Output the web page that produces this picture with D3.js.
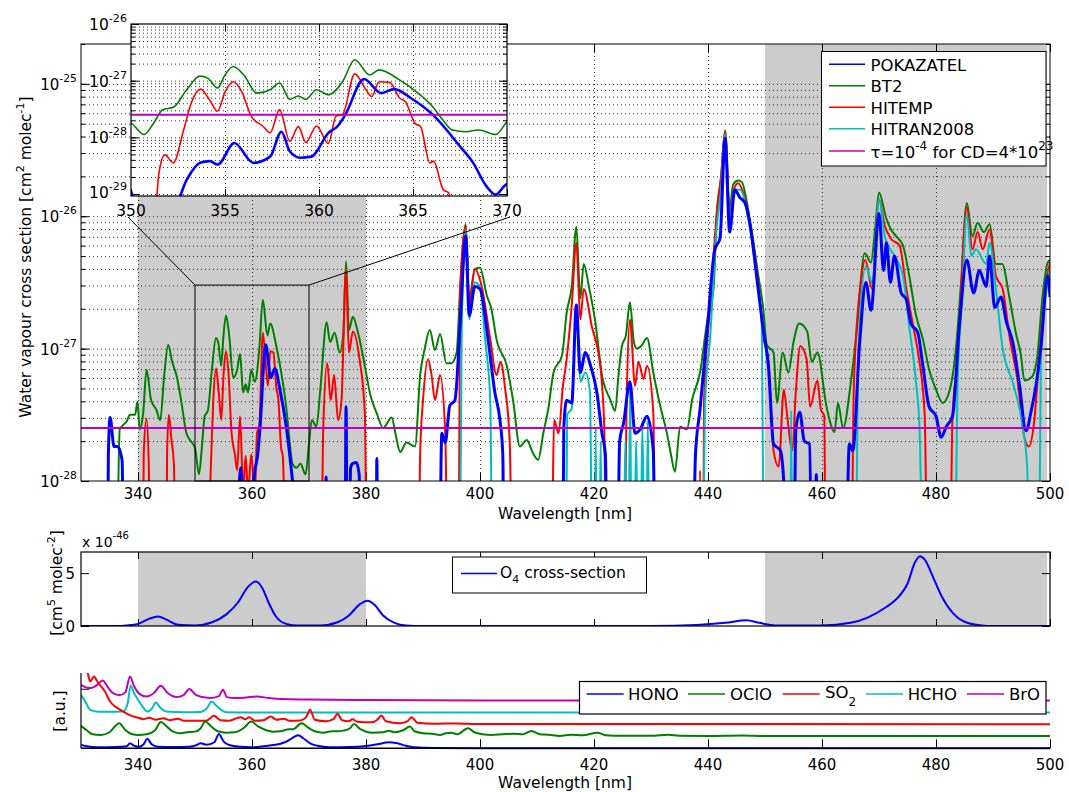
<!DOCTYPE html>
<html><head><meta charset="utf-8">
<script src="https://cdn.jsdelivr.net/npm/d3@7"></script>
<style>
body{margin:0;background:#fff;}
text{font-family:"DejaVu Sans",sans-serif;fill:#000;}
</style></head><body>
<svg id="c" width="1069" height="792"></svg>
<script>
// ===== DATA =====
const wavelengthTicks = [340,360,380,400,420,440,460,480,500];
const insetTicks = [350,355,360,365,370];
const mainExpLabels = [-28,-27,-26,-25];
const insetExpLabels = [-29,-28,-27,-26];
const shadedRanges = [[340,380],[450,499.5]];
const zoomRange = [350,370];
const zoomTopLog = -26.52;
const tauLog = -27.6; // tau=1e-4 for CD=4e23 (log10 cross section)

// water vapour cross sections: [wavelength nm, log10(sigma cm2/molec)]
const bt2 = [[330,-30],[335.8,-30],[336.8,-27.61],[338,-27.55],[338.6,-27.5],[339.5,-27.5],[339.9,-27.4],[340.3,-27.61],[340.9,-27.49],[341.5,-27.16],[342.3,-27.39],[343.2,-27.46],[343.9,-27.54],[344.6,-27.2],[345.3,-26.97],[346,-27.1],[346.8,-27.21],[347.6,-27.4],[348.5,-27.64],[349.3,-27.7],
[350,-27.75],[350.7,-27.95],[351.2,-27.75],[351.7,-27.51],[352.25,-27.47],[352.96,-27.16],[353.67,-26.92],[354.1,-26.96],[354.6,-27.13],[355,-26.9],[355.44,-26.75],[356,-26.9],[356.7,-27.22],[357.4,-27.16],[357.9,-27.04],[358.45,-27.33],[358.9,-27.27],[359.3,-27.33],[359.87,-27.16],[360.5,-27.25],[361.25,-27.02],[361.9,-26.63],[362.7,-26.9],[363.2,-26.81],[364.3,-26.99],[365.2,-27.2],[366.05,-27.46],[366.6,-27.7],[367.1,-27.87],[367.8,-27.9],[368.5,-27.87],[369.4,-27.95],[370,-27.72],
[370.5,-27.54],[371.3,-27.59],[372,-27.3],[373.1,-26.8],[373.7,-26.95],[374.5,-26.88],[375.4,-27.03],[376,-26.9],[376.5,-26.34],[377,-26.86],[377.7,-26.76],[378.6,-26.88],[379.8,-27.13],[380.7,-27.34],[381.9,-27.49],[383,-27.6],[384.5,-27.52],[385.2,-27.65],[386,-27.78],[387.1,-27.71],[388.6,-27.74],[389.5,-27.2],[390.3,-27],[391.2,-26.86],[392.1,-27.01],[393,-26.89],[394.1,-27.11],[395,-27.11],[395.9,-27.03],[396.5,-26.55],[397.5,-26.06],[398.1,-26.62],[399.1,-26.4],[400,-26.39],[401.2,-26.6],[402,-26.7],[402.9,-26.93],[404.7,-27.13],[405.8,-27.39],[407,-27.74],[408.2,-27.69],[409.3,-27.79],[410.2,-27.84],[411.1,-27.64],[412,-27.45],[412.9,-27.18],[414.4,-27.05],[415.2,-26.73],[416.1,-26.53],[416.9,-26.08],[417.6,-26.62],[418.2,-26.36],[419.1,-26.53],[420.2,-26.79],[421.4,-27.2],[422.9,-27.39],[423.7,-27.47],[424.3,-27.2],[424.9,-26.98],[425.6,-26.9],[426.3,-26.65],[427,-26.95],[427.5,-27],[428.3,-26.98],[429.3,-26.92],[430.4,-27.18],[431.6,-27.43],[432.8,-27.64],[433.5,-27.8],[434.2,-27.93],[435.1,-27.59],[436.3,-27.61],[437.2,-27.39],[438.6,-27.18],[439.8,-26.81],[441,-26.53],[441.5,-26],[442.3,-25.7],[443,-25.35],[443.8,-25.95],[444.4,-25.76],[445.3,-25.73],[445.9,-25.74],[447.4,-26.04],[448.8,-26.44],[449.7,-26.7],[450.3,-26.97],[451.5,-27.03],[452.1,-27.41],[453.1,-27.03],[454.1,-27.18],[455,-26.95],[456,-26.81],[457.4,-26.87],[458.2,-27.1],[459.2,-27.03],[460.8,-27.44],[462.2,-27.63],[462.8,-27.41],[463.7,-27.6],[465.1,-27.24],[466,-26.91],[467.5,-26.28],[468.6,-26.35],[469.3,-26.1],[470,-25.82],[471.3,-26.02],[472.1,-26.1],[473,-26.15],[474.2,-26.22],[475.3,-26.45],[476.5,-26.75],[477.7,-26.93],[478.8,-27.16],[480,-27.31],[481.2,-27.41],[482.3,-27.33],[483.5,-27],[484.4,-26.5],[485.4,-25.9],[486.4,-26.15],[487.3,-26.05],[488.4,-26.12],[489.4,-26.06],[490.5,-26.36],[491.6,-26.36],[492.9,-26.62],[494,-26.88],[494.9,-27.05],[495.5,-27.24],[496.9,-27.21],[497.8,-27.05],[498.7,-26.6],[499.6,-26.35],[500,-26.33]];

const hitemp = [[330,-30],[340.7,-30],[341,-27.8],[341.5,-27.53],[341.9,-27.9],[342.2,-30],[344.8,-30],[345.1,-27.8],[345.4,-27.5],[345.9,-27.7],[346.3,-27.87],[346.9,-30],
[351.2,-30],[351.5,-28.6],[351.8,-28.31],[352.25,-28.45],[352.8,-27.87],[353.2,-27.4],[353.7,-27.15],[354.2,-27.35],[354.6,-27.54],[355,-27.2],[355.44,-27.02],[355.9,-27.2],[356.4,-27.63],[357,-27.8],[357.4,-27.92],[357.9,-27.51],[358.45,-28.07],[358.9,-27.81],[359.3,-28.09],[359.87,-27.8],[360.5,-28.11],[360.9,-27.63],[361.25,-27.6],[361.9,-26.88],[362.5,-27.16],[362.8,-27.28],[363.2,-27.02],[363.75,-27.03],[364.3,-27.31],[364.6,-27.37],[365.1,-27.75],[365.4,-27.81],[365.9,-28.45],[366.1,-28.42],[366.6,-28.92],[366.9,-28.98],[367.2,-30],
[371.8,-30],[372.5,-27.6],[373.2,-27.11],[373.8,-27.39],[374.4,-27.2],[375.1,-27.54],[375.7,-27.39],[376.5,-26.4],[377,-27.03],[377.7,-26.87],[378.9,-27.09],[379.8,-27.49],[380.4,-30],[389,-30],[389.5,-27.79],[390,-27.39],[390.9,-27.08],[391.5,-27.2],[392.1,-27.39],[393,-27.2],[393.9,-27.64],[394.7,-30],[396.1,-30],[396.5,-26.57],[397.5,-26.07],[398.1,-26.67],[399.1,-26.4],[400.3,-26.53],[401.8,-26.93],[402.9,-27.2],[403.6,-27.1],[404.4,-27.3],[405.2,-27.69],[406.1,-30],[412.3,-30],[413,-27.54],[413.8,-27.64],[414.5,-27.3],[415.2,-27.08],[416.1,-26.67],[416.9,-26.2],[417.6,-26.78],[418.2,-26.55],[419.6,-26.83],[421.1,-27.13],[421.8,-27.6],[422.3,-30],[424.9,-30],[425.8,-27.25],[426.3,-26.78],[427.2,-27.28],[427.8,-27.1],[428.7,-27.23],[429.3,-27.13],[430.4,-27.48],[431,-30],[438.3,-30],[438.6,-27.92],[439,-30],[439.3,-27.4],[440.4,-26.67],[441.5,-26],[442.3,-25.7],[443,-25.36],[443.8,-26],[444.5,-25.8],[445.3,-25.75],[446,-25.8],[447.4,-26.06],[448.8,-26.5],[449.7,-26.91],[450.6,-27.1],[451.5,-27.77],[452.4,-27.89],[453.3,-27.31],[453.9,-27.51],[454.8,-27.77],[455.4,-27.33],[456.2,-26.98],[457.3,-27.08],[457.9,-27.44],[459.2,-27.24],[459.8,-27.46],[460.4,-27.51],[460.8,-30],[464.8,-30],[465.6,-27.26],[466.8,-26.5],[467.6,-26.33],[468.8,-26.55],[470,-25.87],[471,-26.07],[472.1,-26.17],[473.6,-26.22],[474.8,-26.55],[476,-26.83],[477.1,-27.1],[478,-27.49],[478.9,-30],[482.1,-30],[482.9,-27.51],[483.8,-27.08],[485.4,-25.93],[486.4,-26.25],[487.3,-26.12],[488.2,-26.25],[489.4,-26.1],[490.5,-26.45],[491.7,-26.55],[492.9,-26.91],[494.3,-27.24],[495.5,-27.67],[496.3,-27.74],[497.2,-27.56],[498.1,-27.08],[499.3,-26.5],[500,-26.35]];

const hitran2008 = [[330,-30],[396.2,-30],[396.8,-26.83],[397.5,-26.1],[398.1,-26.78],[399.1,-26.5],[400,-26.53],[400.9,-26.93],[401.8,-27.39],[402.4,-30],[414.8,-30],[415.3,-27.5],[416.1,-27.45],[416.9,-26.7],[417.6,-27.25],[418.5,-27.18],[419.3,-27.33],[419.9,-30],[420.3,-27.6],[420.7,-30],[421.2,-27.7],[421.6,-30],[425,-30],[425.5,-27.7],[425.9,-30],[426.3,-27.3],[426.8,-30],[427.4,-27.7],[427.9,-30],[428.5,-27.6],[429,-30],[429.4,-27.55],[430,-30],[438.8,-30],[439.5,-27.4],[440.4,-26.9],[441.5,-26.1],[442.3,-25.8],[443,-25.38],[443.8,-26.05],[444.6,-25.8],[445.6,-25.8],[447.4,-26.1],[448.8,-26.55],[449.4,-26.76],[450,-30],[454.3,-30],[454.6,-27.47],[454.9,-30],[465.6,-30],[466.4,-27],[467.7,-26.38],[468.8,-26.5],[470,-25.87],[471,-26.15],[472.7,-26.3],[474.2,-26.45],[475.3,-26.83],[476.5,-27.26],[477.1,-27.59],[478.3,-30],[482.9,-30],[483.8,-27.26],[484.6,-26.6],[485.4,-25.98],[486.2,-26.3],[487,-26.25],[488.8,-26.36],[489.4,-26.2],[490.5,-26.55],[491.7,-27],[493.5,-27.26],[495.2,-27.59],[496,-27.9],[496.7,-30],[497.8,-30],[498.4,-27.05],[499.6,-26.5],[500,-26.4]];

const pokazatel = [[330,-30],[334.4,-30],[334.8,-27.8],[335.1,-27.52],[335.8,-27.74],[336.4,-27.74],[337.2,-27.84],[337.8,-30],
[349.5,-28.8],[350,-28.95],[350.3,-29.3],[352.2,-29.3],[352.96,-28.75],[353.67,-28.45],[354.2,-28.42],[354.6,-28.48],[355.5,-28.1],[356.5,-28.45],[357.4,-28.34],[358,-27.9],[358.45,-28.25],[359,-28.36],[359.6,-28.34],[360.5,-27.92],[361,-27.8],[361.4,-27.6],[362.4,-26.97],[363.3,-27.22],[364,-27.15],[364.9,-27.31],[366.05,-27.6],[367.5,-28.16],[368.2,-28.45],[368.9,-28.86],[369.4,-29.01],[370,-28.83],[370.5,-29.3],
[372.7,-30],[373,-27.97],[373.3,-30],[376.2,-30],[376.5,-27.44],[376.8,-30],[377.3,-27.9],[377.6,-27.87],[378.3,-27.86],[378.8,-27.95],[379.2,-30],[381.7,-30],[381.9,-27.83],[382.2,-30],[392.6,-30],[393.3,-27.64],[393.9,-27.71],[394.7,-27.43],[395.6,-27.39],[396.5,-26.83],[397.5,-26.15],[398.1,-26.75],[399.1,-26.53],[400,-26.55],[401.5,-26.96],[402.6,-27.33],[403.5,-27.54],[404,-27.8],[404.4,-30],[414.3,-30],[414.7,-27.6],[415.2,-27.39],[416.1,-27.41],[416.9,-26.67],[417.6,-27.18],[418.5,-27.03],[419.4,-27.13],[420.5,-27.33],[421.4,-27.64],[422,-27.8],[422.6,-30],[423.8,-30],[424.5,-27.7],[425.2,-27.56],[426.3,-27.25],[427.2,-27.64],[428.1,-27.61],[429.3,-27.51],[430.4,-27.77],[431,-30],[436.9,-30],[437.8,-27.8],[438.6,-27.46],[439.8,-26.89],[441.2,-26.25],[442.1,-26.17],[443,-25.41],[443.8,-26.12],[444.7,-25.8],[445.6,-25.86],[446.5,-25.9],[447.4,-26.07],[448.8,-26.55],[449.7,-26.86],[450.6,-27.13],[451.5,-27.72],[452.7,-27.77],[453.5,-28.2],[453.9,-30],[454.8,-30],[455.4,-27.62],[456.1,-27.48],[456.9,-27.7],[457.8,-27.72],[458.6,-30],[459,-27.95],[459.4,-30],[463.7,-30],[464.8,-27.72],[465.4,-27.77],[466.6,-26.96],[467.7,-26.5],[468.6,-26.71],[470,-25.98],[470.8,-26.41],[471.3,-26.2],[472,-26.5],[472.7,-26.3],[473.9,-26.58],[474.8,-26.63],[475.6,-26.81],[476.8,-26.88],[477.7,-27.13],[478.8,-27.44],[480,-27.51],[480.9,-27.67],[481.8,-27.59],[482.9,-27.51],[484.1,-26.83],[485.4,-26.33],[486.6,-26.58],[487.6,-26.41],[488.8,-26.53],[489.4,-26.3],[490.3,-26.69],[491.4,-26.61],[492.3,-26.79],[493.5,-26.96],[494.6,-27.26],[495.8,-27.62],[496.7,-27.47],[497.5,-27.29],[498.4,-26.99],[499.6,-26.45],[500,-26.61]];

// O4 cross-section, units of 1e-46 cm5 molec-2
const o4 = [[330,0],[336,0],[338,0.05],[340,0.2],[342,0.7],[343.5,0.9],[345,0.6],[347,0.12],[350,0.05],[353,0.35],[355.5,1.1],[357.5,2.2],[359.3,3.7],[360.7,4.2],[361.8,3.6],[363,2.1],[364.2,0.9],[366,0.2],[368,0.05],[372,0.05],[375,0.35],[377,1.0],[379,2.1],[380.3,2.4],[381.5,2.0],[383,1.0],[385,0.3],[387,0.05],[390,0],[430,0],[438,0.1],[443,0.3],[446.8,0.55],[449,0.3],[452,0.05],[460,0.05],[465,0.3],[468,0.8],[471,1.7],[473.5,2.8],[475,4.0],[476.3,6.0],[477.2,6.6],[478,6.3],[479.5,4.6],[481,2.8],[483,1.2],[485,0.4],[488,0.05],[490,0],[500,0]];

// reference absorbers, arbitrary units (offset for display)
const hono = [[330,3.3],[331,2],[333,1],[336,1.2],[338,2],[338.6,5],[339.3,2.5],[340.2,1.6],[341,4],[341.6,9.6],[342.4,4],[343.5,1.5],[346,1.2],[349,1.6],[350.2,3],[351,5],[352,3.5],[353.4,6],[354.2,14.3],[355,7],[356,3.3],[358,1.5],[360,1],[362,2],[363.7,3.3],[365,4.5],[366,6.6],[367,10],[368.1,13],[369,10],[370.2,5],[371.5,2.5],[373.6,1],[377,1.2],[380,2.3],[382,4],[384,6],[385.5,5],[387,2.5],[388.5,1],[392,0.3],[400,0],[500,0]];
const oclo = [[330,22.3],[331,18],[332,14],[333.5,13.3],[335,16],[336.7,25],[337.8,18],[339,14],[340,13.3],[341.5,14],[343,18],[344,26.3],[345,22],[346,17],[347.3,15],[348.5,16],[350,16.6],[351,20],[351.8,26.6],[352.8,22],[354,17],[355.5,15.6],[357,16],[358.5,20],[359.9,26.6],[361,22],[362.5,18],[363.7,16.6],[365,17],[366.5,19],[367.2,19],[368.7,25],[370,20],[371,17],[372.5,15.6],[374,17],[375,17],[376,17.6],[377.2,20],[377.9,24.3],[379,19],[381,15.6],[383,16],[384,17.5],[385,16],[386.5,18],[387.7,21.6],[388.5,17],[390,15],[391.5,14.5],[393,13.3],[394,15],[395,15.5],[396,14],[397.9,20],[399,16],[400.5,14],[402,13.3],[404,14],[406,14.5],[407.5,14],[409,17.3],[410.5,14],[412,13.5],[414,12.3],[416,13.5],[418,13],[420.6,15.6],[422,13],[425,12.5],[430,12.5],[433,13.5],[435,12.5],[440,12.3],[446,12.8],[450,12.3],[500,12.3]];
const so2 = [[330.8,80],[331.2,74.3],[331.6,66.6],[332.3,71.6],[332.8,67],[333.3,63.3],[334.2,56.6],[335.1,46.6],[336,41.6],[337.4,36.6],[339.2,31.6],[340,30.5],[341,29],[342,30.5],[343,28.5],[344.5,30],[345.5,28],[347,29.5],[348,27.5],[350,27.5],[352,27.5],[353.3,32.3],[354.5,28],[356,27.5],[358,31],[358.8,29],[359.5,31],[360.5,27.5],[362,28],[363.3,31.6],[364.3,28.5],[365.6,29.5],[366.5,27.5],[368.5,27.8],[369.5,31],[370.2,38.3],[371,28.5],[373,27],[374.3,29],[375,34.3],[375.8,28],[377,27],[377.6,29],[378.5,26.5],[381,26],[382,28.5],[382.7,32.6],[383.5,27],[386,25],[387.3,27],[388,31],[389,25.5],[392,24.5],[396,24.8],[400,24.2],[500,24]];
const hcho = [[330,53.3],[330.8,46],[331.6,38.3],[333,36.5],[335,36.3],[337.4,36.6],[338.2,45],[338.7,62.3],[339.3,55],[340,48.3],[341,40],[341.6,36.6],[342.5,40],[343.1,45.6],[344,40],[345,36.6],[348,36],[351,36.2],[352.1,40],[352.9,46.6],[353.8,42],[355.5,36],[360,35.7],[500,35.6]];
const bro = [[330,63.3],[331.5,60],[332.8,63],[333.8,67.6],[334.7,61],[335.6,55],[336.8,53],[337.8,56],[338.6,71.6],[339.3,62],[340.3,54],[341.5,51.6],[342.8,55],[344,62.3],[345.2,55],[346.8,51],[348,53],[349,59],[350.2,53],[352.6,50],[354.2,52],[354.9,58.3],[355.6,51],[357,50],[359,50.5],[360.8,51.6],[363,50],[365,49],[370,48.5],[380,48],[400,47.6],[500,47.6]];

const C = {blue:"#0000ff", green:"#008000", red:"#ff0000", cyan:"#00bfbf", magenta:"#bf00bf"};

// ===== DRAW =====
const svg = d3.select("#c");
const defs = svg.append("defs");
function clip(id,x0,y0,w,h){defs.append("clipPath").attr("id",id).append("rect").attr("x",x0).attr("y",y0).attr("width",w).attr("height",h);}
const P = e => Math.pow(10,e);
function tickAxis(g, gen, tx, ty){
  const a = g.append("g").attr("transform",`translate(${tx},${ty})`).call(gen);
  a.select(".domain").remove();
  a.selectAll("line").attr("stroke","#000").attr("stroke-width",1);
  return a;
}
function gridAxis(g, gen, tx, ty){
  const a = g.append("g").attr("transform",`translate(${tx},${ty})`).call(gen);
  a.select(".domain").remove();
  a.selectAll("line").attr("stroke","#333").attr("stroke-width",1).attr("stroke-dasharray","1,3");
  return a;
}
function sci(g, xx, yy, exp, fs, anchor){
  const t = g.append("text").attr("x",xx).attr("y",yy).attr("font-size",fs).attr("text-anchor",anchor||"end");
  t.append("tspan").text("10");
  t.append("tspan").attr("dy",-8).attr("font-size",fs*0.72).text(exp);
  return t;
}

// ---------- main panel ----------
const M = {l:81,r:1050,t:44,b:481};
const x = d3.scaleLinear().domain([330,500]).range([M.l,M.r]);
const y = d3.scaleLog().domain([1e-28,2e-25]).range([M.b,M.t]);
clip("cm",M.l,M.t,M.r-M.l,M.b-M.t);
const gM = svg.append("g");
gM.selectAll("rect.shade").data(shadedRanges).join("rect").attr("class","shade")
  .attr("x",d=>x(d[0])).attr("width",d=>x(d[1])-x(d[0])).attr("y",M.t).attr("height",M.b-M.t).attr("fill","#cccccc");
const logVals = [];
for(let e=-28;e<=-26;e++) for(let k=1;k<10;k++) logVals.push(k*P(e));
logVals.push(1e-25, 2e-25);
const majors = mainExpLabels.map(P);
gridAxis(gM, d3.axisLeft(y).tickValues(logVals.filter(v=>v>1.01e-28 && v<1.9e-25)).tickSize(-(M.r-M.l)).tickFormat(""), M.l, 0);
gridAxis(gM, d3.axisBottom(x).tickValues(wavelengthTicks.slice(0,-1)).tickSize(-(M.b-M.t)).tickFormat(""), 0, M.b);
tickAxis(gM, d3.axisLeft(y).tickValues(logVals).tickSize(-4).tickFormat(""), M.l, 0);
tickAxis(gM, d3.axisLeft(y).tickValues(majors).tickSize(-8).tickFormat(""), M.l, 0);
tickAxis(gM, d3.axisRight(y).tickValues(logVals).tickSize(-4).tickFormat(""), M.r, 0);
tickAxis(gM, d3.axisRight(y).tickValues(majors).tickSize(-8).tickFormat(""), M.r, 0);
tickAxis(gM, d3.axisBottom(x).tickValues(wavelengthTicks).tickSize(-8).tickFormat(""), 0, M.b);
tickAxis(gM, d3.axisTop(x).tickValues(wavelengthTicks).tickSize(-8).tickFormat(""), 0, M.t);

const lineM = d3.line().x(d=>x(d[0])).y(d=>y(P(d[1]))).curve(d3.curveMonotoneX);
const gS = gM.append("g").attr("clip-path","url(#cm)");
const seriesMain = [
  {d:bt2, c:C.green, w:2},
  {d:hitemp, c:C.red, w:2},
  {d:hitran2008, c:C.cyan, w:2},
  {d:pokazatel, c:C.blue, w:3}
];
seriesMain.forEach(s=>gS.append("path").attr("d",lineM(s.d)).attr("fill","none").attr("stroke",s.c).attr("stroke-width",s.w).attr("stroke-linejoin","round"));
gS.append("line").attr("x1",M.l).attr("x2",M.r).attr("y1",y(P(tauLog))).attr("y2",y(P(tauLog))).attr("stroke",C.magenta).attr("stroke-width",2);
gM.append("rect").attr("x",M.l).attr("y",M.t).attr("width",M.r-M.l).attr("height",M.b-M.t).attr("fill","none").attr("stroke","#000");

// labels main
gM.selectAll("text.xt").data(wavelengthTicks).join("text").attr("class","xt")
  .attr("x",d=>x(d)).attr("y",499).attr("text-anchor","middle").attr("font-size",15).text(d=>d);
mainExpLabels.forEach(e=>sci(gM,77,y(P(e))+6,"-"+(-e),15));
svg.append("text").attr("x",565).attr("y",519).attr("text-anchor","middle").attr("font-size",15.5).text("Wavelength [nm]");
{
  const t = svg.append("text").attr("transform","translate(31,257) rotate(-90)").attr("text-anchor","middle").attr("font-size",15.5);
  t.append("tspan").text("Water vapour cross section [cm");
  t.append("tspan").attr("dy",-7).attr("font-size",11).text("2");
  t.append("tspan").attr("dy",7).text(" molec");
  t.append("tspan").attr("dy",-7).attr("font-size",11).text("-1");
  t.append("tspan").attr("dy",7).text("]");
}

// zoom rectangle & connectors
const zy = y(P(zoomTopLog));
gM.append("rect").attr("x",x(zoomRange[0])).attr("y",zy).attr("width",x(zoomRange[1])-x(zoomRange[0])).attr("height",M.b-zy).attr("fill","none").attr("stroke","#000").attr("stroke-width",1);

// ---------- inset ----------
const I = {l:131,r:507,t:24,b:196};
const xi = d3.scaleLinear().domain(zoomRange).range([I.l,I.r]);
const yi = d3.scaleLog().domain([P(-29.035),1e-26]).range([I.b,I.t]);
gM.append("line").attr("x1",x(zoomRange[0])).attr("y1",zy).attr("x2",I.l-3).attr("y2",217).attr("stroke","#000");
gM.append("line").attr("x1",x(zoomRange[1])).attr("y1",zy).attr("x2",I.r+3).attr("y2",217).attr("stroke","#000");
clip("ci",I.l,I.t,I.r-I.l,I.b-I.t);
const gI = svg.append("g");
gI.append("rect").attr("x",I.l).attr("y",I.t).attr("width",I.r-I.l).attr("height",I.b-I.t).attr("fill","#fff");
const iVals = [];
for(let e=-29;e<=-27;e++) for(let k=1;k<10;k++) iVals.push(k*P(e));
iVals.push(1e-26);
const iMaj = insetExpLabels.map(P);
gridAxis(gI, d3.axisLeft(yi).tickValues(iVals.filter(v=>v<0.99e-26)).tickSize(-(I.r-I.l)).tickFormat(""), I.l, 0);
gridAxis(gI, d3.axisBottom(xi).tickValues(insetTicks.slice(1,-1)).tickSize(-(I.b-I.t)).tickFormat(""), 0, I.b);
tickAxis(gI, d3.axisLeft(yi).tickValues(iVals).tickSize(-4).tickFormat(""), I.l, 0);
tickAxis(gI, d3.axisLeft(yi).tickValues(iMaj).tickSize(-8).tickFormat(""), I.l, 0);
tickAxis(gI, d3.axisRight(yi).tickValues(iVals).tickSize(-4).tickFormat(""), I.r, 0);
tickAxis(gI, d3.axisRight(yi).tickValues(iMaj).tickSize(-8).tickFormat(""), I.r, 0);
tickAxis(gI, d3.axisBottom(xi).tickValues(insetTicks).tickSize(-7).tickFormat(""), 0, I.b);
tickAxis(gI, d3.axisTop(xi).tickValues(insetTicks).tickSize(-7).tickFormat(""), 0, I.t);
const lineI = d3.line().x(d=>xi(d[0])).y(d=>yi(P(d[1]))).curve(d3.curveMonotoneX);
const inWin = d => d.filter(p=>p[0]>=347 && p[0]<=373);
const gIS = gI.append("g").attr("clip-path","url(#ci)");
[{d:bt2,c:C.green,w:1.6},{d:hitemp,c:C.red,w:1.6},{d:hitran2008,c:C.cyan,w:1.6},{d:pokazatel,c:C.blue,w:2.6}]
  .forEach(s=>gIS.append("path").attr("d",lineI(inWin(s.d))).attr("fill","none").attr("stroke",s.c).attr("stroke-width",s.w).attr("stroke-linejoin","round"));
gIS.append("line").attr("x1",I.l).attr("x2",I.r).attr("y1",yi(P(tauLog))).attr("y2",yi(P(tauLog))).attr("stroke",C.magenta).attr("stroke-width",2);
gI.append("rect").attr("x",I.l).attr("y",I.t).attr("width",I.r-I.l).attr("height",I.b-I.t).attr("fill","none").attr("stroke","#000").attr("stroke-width",1.2);
gI.selectAll("text.xi").data(insetTicks).join("text").attr("class","xi")
  .attr("x",d=>xi(d)).attr("y",216).attr("text-anchor","middle").attr("font-size",15.5).text(d=>d);
insetExpLabels.forEach(e=>sci(gI,127,Math.min(yi(P(e))+6,I.b+2),"-"+(-e),15.5));

// ---------- main legend ----------
const gL = svg.append("g");
gL.append("rect").attr("x",821.5).attr("y",51.5).attr("width",224.5).attr("height",114.5).attr("fill","#fff").attr("stroke","#000");
const legMain = [
  {t:"POKAZATEL",c:C.blue},{t:"BT2",c:C.green},{t:"HITEMP",c:C.red},{t:"HITRAN2008",c:C.cyan}
];
legMain.forEach((s,i)=>{
  const by = 70.7 + i*21.5;
  gL.append("line").attr("x1",829).attr("x2",865).attr("y1",by-6.5).attr("y2",by-6.5).attr("stroke",s.c).attr("stroke-width",1.5);
  gL.append("text").attr("x",870.5).attr("y",by).attr("font-size",16.5).text(s.t);
});
{
  const by = 157;
  gL.append("line").attr("x1",829).attr("x2",865).attr("y1",151).attr("y2",151).attr("stroke",C.magenta).attr("stroke-width",1.5);
  const t = gL.append("text").attr("x",870.5).attr("y",by+1).attr("font-size",16.5);
  t.append("tspan").text("τ=10");
  t.append("tspan").attr("dy",-8).attr("font-size",12).text("-4");
  t.append("tspan").attr("dy",8).text(" for CD=4*10");
  t.append("tspan").attr("dy",-8).attr("font-size",12).text("23");
}

// ---------- O4 panel ----------
const O = {l:81,r:1050,t:552,b:626};
const yo = d3.scaleLinear().domain([0,7]).range([O.b,O.t]);
clip("co",O.l,O.t,O.r-O.l,O.b-O.t);
const gO = svg.append("g");
gO.selectAll("rect.shade").data(shadedRanges).join("rect").attr("class","shade")
  .attr("x",d=>x(d[0])).attr("width",d=>x(d[1])-x(d[0])).attr("y",O.t).attr("height",O.b-O.t).attr("fill","#cccccc");
tickAxis(gO, d3.axisBottom(x).tickValues(wavelengthTicks).tickSize(-7).tickFormat(""), 0, O.b);
tickAxis(gO, d3.axisTop(x).tickValues(wavelengthTicks).tickSize(-7).tickFormat(""), 0, O.t);
tickAxis(gO, d3.axisLeft(yo).tickValues([0,5]).tickSize(-8).tickFormat(""), O.l, 0);
tickAxis(gO, d3.axisRight(yo).tickValues([0,5]).tickSize(-8).tickFormat(""), O.r, 0);
const lineO = d3.line().x(d=>x(d[0])).y(d=>yo(d[1])).curve(d3.curveMonotoneX);
gO.append("g").attr("clip-path","url(#co)").append("path").attr("d",lineO(o4)).attr("fill","none").attr("stroke",C.blue).attr("stroke-width",2);
gO.append("rect").attr("x",O.l).attr("y",O.t).attr("width",O.r-O.l).attr("height",O.b-O.t).attr("fill","none").attr("stroke","#000").attr("stroke-width",1.2);
[0,5].forEach(v=>gO.append("text").attr("x",75).attr("y",yo(v)+5.5).attr("text-anchor","end").attr("font-size",15).text(v));
{
  const t = gO.append("text").attr("x",82).attr("y",547).attr("font-size",14);
  t.append("tspan").text("x 10");
  t.append("tspan").attr("dy",-8).attr("font-size",10).text("-46");
  const u = gO.append("text").attr("transform","translate(62,583) rotate(-90)").attr("text-anchor","middle").attr("font-size",15.5);
  u.append("tspan").text("[cm");
  u.append("tspan").attr("dy",-7).attr("font-size",11).text("5");
  u.append("tspan").attr("dy",7).text("  molec");
  u.append("tspan").attr("dy",-7).attr("font-size",11).text("-2");
  u.append("tspan").attr("dy",7).text("]");
  // legend
  gO.append("rect").attr("x",452.5).attr("y",557).attr("width",194).attr("height",36).attr("fill","#fff").attr("stroke","#000");
  gO.append("line").attr("x1",461).attr("x2",497).attr("y1",573.5).attr("y2",573.5).attr("stroke",C.blue).attr("stroke-width",1.5);
  const l = gO.append("text").attr("x",500).attr("y",578).attr("font-size",15.5);
  l.append("tspan").text("O");
  l.append("tspan").attr("dy",5).attr("font-size",11).text("4");
  l.append("tspan").attr("dy",-5).text(" cross-section");
}

// ---------- absorbers panel ----------
const B = {l:81,r:1050,t:673,b:748.3};
const ya = d3.scaleLinear().domain([0,75]).range([B.b,B.t]);
clip("cb",B.l,B.t,B.r-B.l+2,B.b-B.t+3);
const gB = svg.append("g");
const lineB = d3.line().x(d=>x(d[0])).y(d=>ya(d[1])).curve(d3.curveMonotoneX);
const gBS = gB.append("g").attr("clip-path","url(#cb)");
[{d:bro,c:C.magenta},{d:hcho,c:C.cyan},{d:so2,c:C.red},{d:oclo,c:C.green},{d:hono,c:C.blue}]
  .forEach(s=>gBS.append("path").attr("d",lineB(s.d)).attr("fill","none").attr("stroke",s.c).attr("stroke-width",2));
tickAxis(gB, d3.axisBottom(x).tickValues(wavelengthTicks).tickSize(-9).tickFormat(""), 0, B.b);
tickAxis(gB, d3.axisLeft(ya).tickValues([59.3]).tickSize(-8).tickFormat(""), B.l, 0);
gB.append("line").attr("x1",B.l).attr("x2",B.r).attr("y1",B.b).attr("y2",B.b).attr("stroke","#000").attr("stroke-width",1.5);
gB.append("line").attr("x1",B.l).attr("x2",B.l).attr("y1",B.t).attr("y2",B.b).attr("stroke","#000").attr("stroke-width",1.2);
gB.selectAll("text.xb").data(wavelengthTicks).join("text").attr("class","xb")
  .attr("x",d=>x(d)).attr("y",770).attr("text-anchor","middle").attr("font-size",15).text(d=>d);
svg.append("text").attr("x",565).attr("y",788).attr("text-anchor","middle").attr("font-size",15.5).text("Wavelength [nm]");
svg.append("text").attr("transform","translate(65,711) rotate(-90)").attr("text-anchor","middle").attr("font-size",15.5).text("[a.u.]");
// legend
gB.append("rect").attr("x",579.5).attr("y",681.5).attr("width",466.5).attr("height",32.5).attr("fill","#fff").attr("stroke","#000").attr("stroke-width",1.2);
const legB = [
  {t:"HONO",c:C.blue,lx:586.7,tx:628},
  {t:"OClO",c:C.green,lx:688,tx:730},
  {t:"SO",sub:"2",c:C.red,lx:782.7,tx:825},
  {t:"HCHO",c:C.cyan,lx:866,tx:907.7},
  {t:"BrO",c:C.magenta,lx:967,tx:1009}
];
legB.forEach(s=>{
  gB.append("line").attr("x1",s.lx).attr("x2",s.lx+37).attr("y1",694).attr("y2",694).attr("stroke",s.c).attr("stroke-width",1.5);
  const t = gB.append("text").attr("x",s.tx).attr("y",s.sub?697.5:700).attr("font-size",16.5).text(s.t);
  if(s.sub) t.append("tspan").attr("dy",8).attr("font-size",12).text(s.sub);
});
</script>
</body></html>
